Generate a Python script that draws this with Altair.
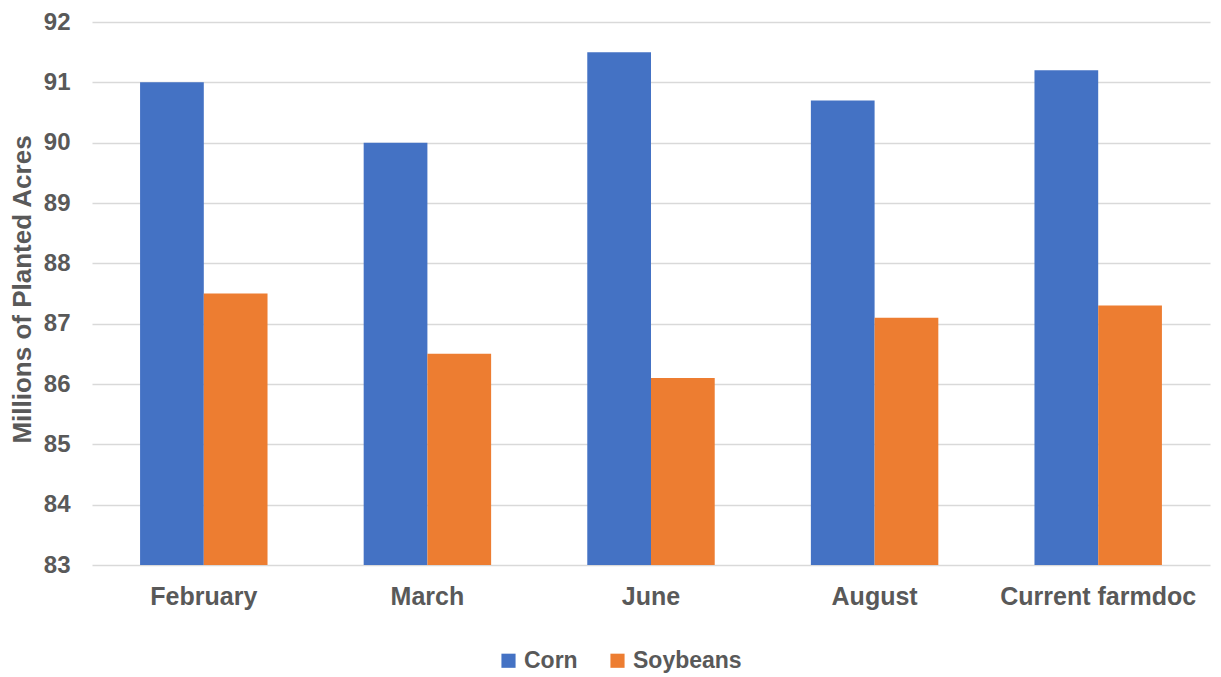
import altair as alt
import pandas as pd

months = ["February", "March", "June", "August", "Current farmdoc"]
corn = [91.0, 90.0, 91.5, 90.7, 91.2]
soybeans = [87.5, 86.5, 86.1, 87.1, 87.3]
y_ticks = [83, 84, 85, 86, 87, 88, 89, 90, 91, 92]

rows = []
for m, c, s in zip(months, corn, soybeans):
    rows.append({"month": m, "crop": "Corn", "value": c})
    rows.append({"month": m, "crop": "Soybeans", "value": s})
df = pd.DataFrame(rows)

font = "Liberation Sans"
gray = "#595959"

chart = alt.Chart(df).mark_bar().encode(
    x=alt.X("month:N", sort=months, title=None,
            scale=alt.Scale(paddingInner=0.43, paddingOuter=0.215),
            axis=alt.Axis(labelAngle=0, labelFont=font, labelFontSize=25, labelFontWeight="bold",
                          labelColor=gray, labelPadding=19, labelLimit=0,
                          ticks=False, domain=False, grid=False)),
    xOffset=alt.XOffset("crop:N", sort=["Corn", "Soybeans"]),
    y=alt.Y("value:Q", title="Millions of Planted Acres",
            scale=alt.Scale(domain=[83, 92], zero=False, nice=False),
            axis=alt.Axis(values=y_ticks, labelFont=font, labelFontSize=24, labelFontWeight="bold",
                          labelColor=gray, labelPadding=22, ticks=False, domain=False,
                          gridColor="#d9d9d9", gridWidth=1.5,
                          titleFont=font, titleFontSize=26, titleFontWeight="bold",
                          titleColor=gray, titlePadding=8, titleY=267)),
    y2=alt.datum(83),
    color=alt.Color("crop:N", sort=["Corn", "Soybeans"],
                    scale=alt.Scale(domain=["Corn", "Soybeans"], range=["#4472C4", "#ED7D31"]),
                    legend=alt.Legend(title=None, orient="none", legendX=405, legendY=627,
                                      direction="horizontal", symbolType="square", symbolSize=200,
                                      labelFont=font, labelFontSize=23, labelFontWeight="bold",
                                      labelColor=gray, columnPadding=28, symbolStrokeWidth=0,
                                      labelLimit=0)),
).properties(
    width=1118, height=543,
    autosize=alt.AutoSizeParams(type="none"),
    padding={"left": 84, "top": 14, "right": 3, "bottom": 110},
).configure_view(stroke=None)

chart.save("out.html", embed_options={"renderer": "svg", "actions": False})
